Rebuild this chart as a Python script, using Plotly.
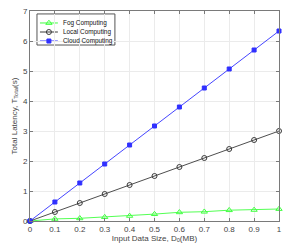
import plotly.graph_objects as go

data_size = [0, 0.1, 0.2, 0.3, 0.4, 0.5, 0.6, 0.7, 0.8, 0.9, 1.0]
fog = [0, 0.07, 0.09, 0.13, 0.17, 0.23, 0.29, 0.31, 0.36, 0.37, 0.40]
local = [0, 0.3, 0.6, 0.9, 1.2, 1.5, 1.8, 2.1, 2.4, 2.7, 3.0]
cloud = [0, 0.633, 1.267, 1.9, 2.533, 3.167, 3.8, 4.433, 5.067, 5.7, 6.333]
series_names = ["Fog Computing", "Local Computing", "Cloud Computing"]
x_ticks = [0, 0.1, 0.2, 0.3, 0.4, 0.5, 0.6, 0.7, 0.8, 0.9, 1]
x_tick_labels = ["0", "0.1", "0.2", "0.3", "0.4", "0.5", "0.6", "0.7", "0.8", "0.9", "1"]
y_ticks = [0, 1, 2, 3, 4, 5, 6, 7]

colors = ["#40ff40", "#3a3a3a", "#3030ff"]
symbols = ["triangle-up-open", "circle-open", "square"]
msizes = [5.5, 5, 4]

fig = go.Figure()
for name, ys, c, s, ms in zip(series_names, [fog, local, cloud], colors, symbols, msizes):
    fig.add_trace(go.Scatter(x=data_size, y=ys, mode="lines+markers", name=name,
                             line=dict(color=c, width=0.9), cliponaxis=False,
                             marker=dict(symbol=s, size=ms, color=c, line=dict(width=1, color=c)),
                             showlegend=False))

# custom compact legend (MATLAB style), drawn on a hidden overlay subplot spanning [0,1]x[0,1]
FONT = "Liberation Sans"
lx0, lx1, lyt, lyb = 0.028, 0.341, 0.986, 0.838
row_y = [0.943, 0.900, 0.857]
fig.add_shape(type="rect", xref="x2", yref="y2", x0=lx0, x1=lx1, y0=lyb, y1=lyt,
              line=dict(color="#555555", width=1), fillcolor="white", layer="below")
for name, c, s, ms, ry in zip(series_names, colors, symbols, msizes, row_y):
    fig.add_shape(type="line", xref="x2", yref="y2", x0=0.040, x1=0.112, y0=ry, y1=ry,
                  line=dict(color=c, width=1), layer="below")
    fig.add_trace(go.Scatter(x=[0.076], y=[ry], xaxis="x2", yaxis="y2", mode="markers",
                             marker=dict(symbol=s, size=ms, color=c, line=dict(width=1, color=c)),
                             showlegend=False, hoverinfo="skip", cliponaxis=False))
    fig.add_annotation(x=0.124, y=ry, xref="paper", yref="paper", text=name, showarrow=False,
                       xanchor="left", yanchor="middle",
                       font=dict(size=6.4, color="#111111", family=FONT))

axis_common = dict(showline=True, linecolor="#7a7a7a", linewidth=1, mirror="ticks",
                   ticks="inside", ticklen=3, tickcolor="#7a7a7a", automargin=False,
                   showgrid=True, gridcolor="#ebebeb", gridwidth=1, zeroline=False,
                   tickfont=dict(size=8, color="#444444", family=FONT))

fig.update_xaxes(range=[0, 1], tickvals=x_ticks, ticktext=x_tick_labels,
                 title=dict(text="Input Data Size, D<sub>0</sub>(MB)", standoff=2,
                            font=dict(size=8, color="#444444", family=FONT)),
                 **axis_common)
fig.update_yaxes(range=[0, 7], tickvals=y_ticks,
                 title=dict(text="Total Latency, T<sub>Total</sub>(s)", standoff=4,
                            font=dict(size=8, color="#444444", family=FONT)),
                 **axis_common)

fig.update_layout(width=289, height=248, margin=dict(l=30, r=10, t=11, b=27),
                  paper_bgcolor="white", plot_bgcolor="white", showlegend=False,
                  xaxis2=dict(overlaying="x", range=[0, 1], visible=False, fixedrange=True),
                  yaxis2=dict(overlaying="y", range=[0, 1], visible=False, fixedrange=True))

fig.write_html("out.html", config={"displayModeBar": False},
               post_script="document.body.style.margin='0';")
